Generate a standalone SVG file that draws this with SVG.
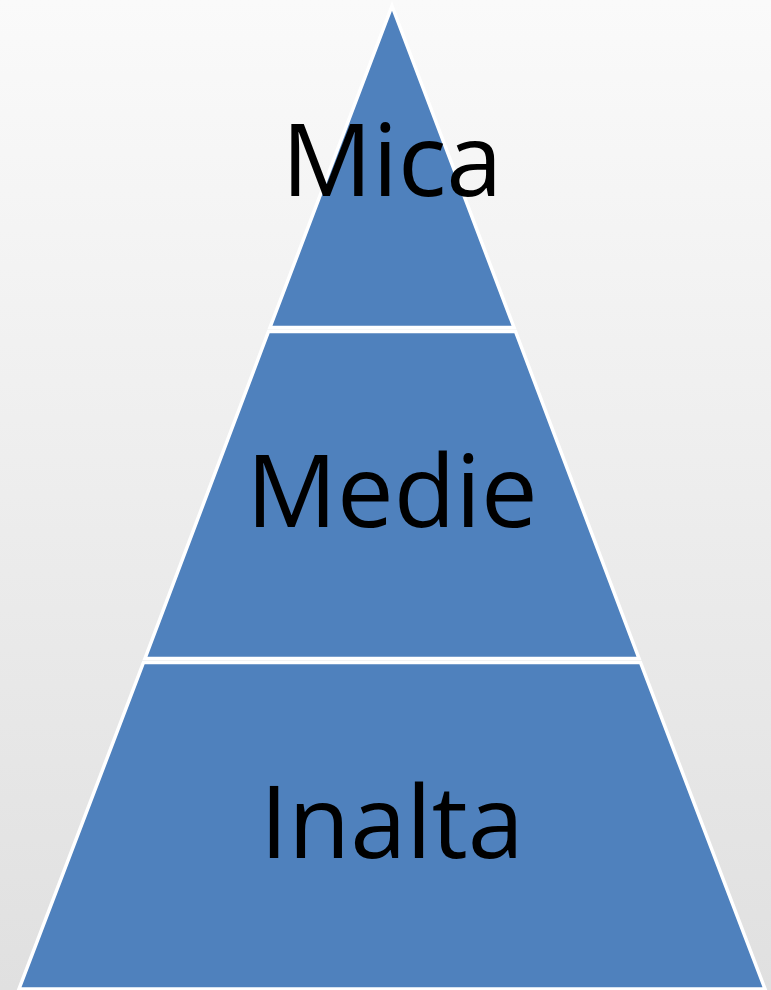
<svg xmlns="http://www.w3.org/2000/svg" width="771" height="990" viewBox="0 0 771 990">
<defs>
<linearGradient id="bg" x1="0" y1="0" x2="0" y2="1">
<stop offset="0" stop-color="#fafafa"/>
<stop offset="1" stop-color="#e0e0e0"/>
</linearGradient>
<style>
.lvl{fill:#4F81BD;stroke:#ffffff;stroke-width:3.5;stroke-linejoin:miter}
.lbl{font-family:"Open Sans","Liberation Sans",sans-serif;font-size:101px;fill:#000;text-anchor:middle}
</style>
</defs>
<rect x="0" y="0" width="771" height="990" fill="url(#bg)"/>
<g id="level-top">
<polygon class="lvl" points="392,6 514,327.5 270,327.5"/>
<text class="lbl" x="392" y="196">Mica</text>
</g>
<g id="level-middle">
<polygon class="lvl" points="268.5,331.5 515.5,331.5 639,658.5 145,658.5"/>
<text class="lbl" x="392" y="527">Medie</text>
</g>
<g id="level-bottom">
<polygon class="lvl" points="143.5,662.5 640.5,662.5 765,989 19,989"/>
<text class="lbl" x="392" y="858">Inalta</text>
</g>
</svg>
